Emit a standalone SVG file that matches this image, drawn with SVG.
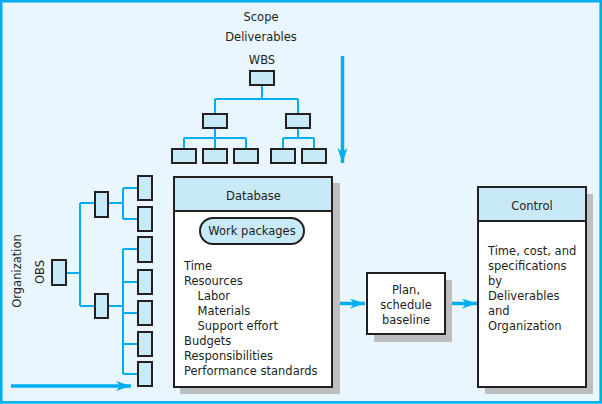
<svg xmlns="http://www.w3.org/2000/svg" width="602" height="404" viewBox="0 0 602 404">
<defs>
<style>
text{font-family:"DejaVu Sans","Open Sans",sans-serif;font-size:11.5px;fill:#231f20}
.c{text-anchor:middle}
.box{fill:#c8e9f8;stroke:#231f20;stroke-width:2}
.ln{fill:none;stroke:#00aeef;stroke-width:2}
.arr{fill:none;stroke:#00aeef;stroke-width:3.5}
.shadow{fill:#bcbec0}
.panel{fill:#ffffff;stroke:#231f20;stroke-width:2}
</style>
<marker id="ah" markerUnits="userSpaceOnUse" markerWidth="16" markerHeight="11" refX="15" refY="5" orient="auto" viewBox="0 0 16 11">
<path d="M0,0 L15,5 L0,10 L4,5 Z" fill="#00aeef"/>
</marker>
</defs>
<rect x="1.2" y="1.2" width="599.5" height="401.2" fill="#eaf6fd" stroke="#00aeef" stroke-width="2.6"/>

<g id="labels">
<text class="c" x="261" y="21">Scope</text>
<text class="c" x="261" y="41">Deliverables</text>
<text class="c" x="262" y="64">WBS</text>
<text class="c" transform="translate(21,271) rotate(-90)">Organization</text>
<text class="c" transform="translate(44,272) rotate(-90)">OBS</text>
</g>

<g id="connectors">
<!-- WBS tree -->
<path class="ln" d="M262,85 V99 M215,99 H298 M215,99 V114 M298,99 V114 M215,128 V138 M184,138 H246 M184,138 V149 M215,138 V149 M246,138 V149 M298,128 V138 M283,138 H314 M283,138 V149 M314,138 V149"/>
<!-- OBS tree -->
<path class="ln" d="M66,273 H80 M80,203 V306 M80,203 H95 M80,306 H95 M108,203 H123 M123,188 V219 M123,188 H138 M123,219 H138 M108,306 H123 M123,249 V374 M123,249 H138 M123,282 H138 M123,313 H138 M123,344 H138 M123,374 H138"/>
<!-- arrows -->
<line class="arr" x1="342.5" y1="56" x2="342.5" y2="163" marker-end="url(#ah)"/>
<line class="arr" x1="11" y1="386" x2="131" y2="386" marker-end="url(#ah)"/>
<line class="arr" x1="333" y1="303.5" x2="365" y2="303.5" marker-end="url(#ah)"/>
<line class="arr" x1="446" y1="303.5" x2="477" y2="303.5" marker-end="url(#ah)"/>
</g>

<g id="wbs">
<rect class="box" x="250" y="71" width="24" height="14"/>
<rect class="box" x="203" y="114" width="24" height="14"/>
<rect class="box" x="286" y="114" width="24" height="14"/>
<rect class="box" x="172" y="149" width="24" height="14"/>
<rect class="box" x="203" y="149" width="24" height="14"/>
<rect class="box" x="234" y="149" width="24" height="14"/>
<rect class="box" x="271" y="149" width="24" height="14"/>
<rect class="box" x="302" y="149" width="24" height="14"/>
</g>

<g id="obs">
<rect class="box" x="52" y="260" width="14" height="25"/>
<rect class="box" x="95" y="192" width="13" height="25"/>
<rect class="box" x="95" y="294" width="13" height="24"/>
<rect class="box" x="138" y="176" width="14" height="24"/>
<rect class="box" x="138" y="207" width="14" height="24"/>
<rect class="box" x="138" y="237" width="14" height="25"/>
<rect class="box" x="138" y="270" width="14" height="24"/>
<rect class="box" x="138" y="301" width="14" height="24"/>
<rect class="box" x="138" y="332" width="14" height="24"/>
<rect class="box" x="138" y="362" width="14" height="24"/>
</g>

<g id="database">
<rect class="shadow" x="180" y="183" width="160" height="211"/>
<rect class="panel" x="174" y="177" width="158" height="210"/>
<rect class="box" x="174" y="177" width="158" height="34"/>
<text class="c" x="253.5" y="200">Database</text>
<rect class="box" x="200" y="218" width="104" height="26" rx="13"/>
<text class="c" x="252" y="235">Work packages</text>
<text x="184" y="270">Time</text>
<text x="184" y="285">Resources</text>
<text x="197.5" y="300">Labor</text>
<text x="197.5" y="315">Materials</text>
<text x="197.5" y="330">Support effort</text>
<text x="184" y="345">Budgets</text>
<text x="184" y="360">Responsibilities</text>
<text x="184" y="375">Performance standards</text>
</g>

<g id="plan">
<rect class="shadow" x="374" y="280" width="78" height="62"/>
<rect class="panel" x="367" y="273" width="78" height="61"/>
<text class="c" x="406" y="294">Plan,</text>
<text class="c" x="406" y="309">schedule</text>
<text class="c" x="406" y="324">baseline</text>
</g>

<g id="control">
<rect class="shadow" x="485" y="194" width="108" height="200"/>
<rect class="panel" x="478" y="187" width="108" height="200"/>
<rect class="box" x="478" y="187" width="108" height="34"/>
<text class="c" x="532" y="210">Control</text>
<text x="488" y="255">Time, cost, and</text>
<text x="488" y="270">specifications</text>
<text x="488" y="285">by</text>
<text x="488" y="300">Deliverables</text>
<text x="488" y="315">and</text>
<text x="488" y="330">Organization</text>
</g>
</svg>
